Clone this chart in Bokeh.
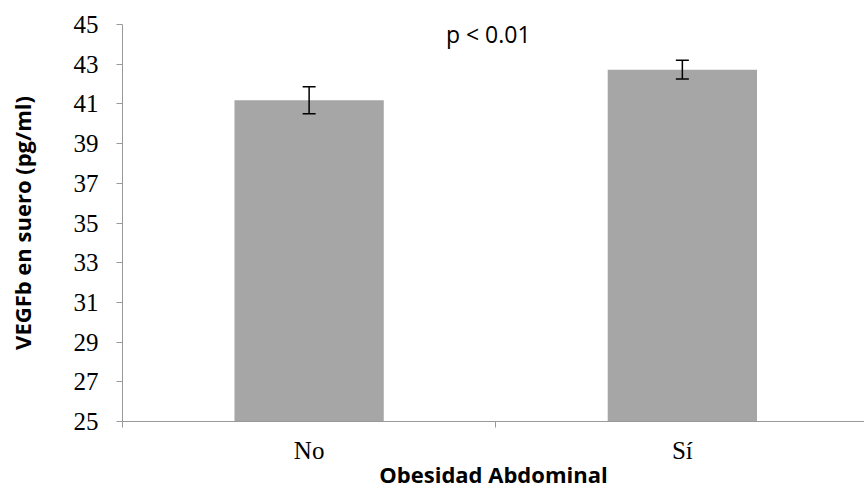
from bokeh.plotting import figure
from bokeh.models import ColumnDataSource, Whisker, TeeHead, FixedTicker, Label, Range1d
from bokeh.embed import file_html
from bokeh.resources import INLINE

categories = ["No", "Sí"]
means = [41.18, 42.72]
err_low = [40.51, 42.26]
err_high = [41.86, 43.20]
y_ticks = list(range(25, 46, 2))
annotation = "p < 0.01"

xpos = [i + 0.5 for i in range(len(categories))]

p = figure(width=864, height=491, output_backend="svg", toolbar_location=None,
           x_range=Range1d(0, 1.988), y_range=Range1d(25, 45),
           min_border_left=122, min_border_right=0, min_border_top=24, min_border_bottom=0)
p.outline_line_color = None
p.xgrid.visible = False
p.ygrid.visible = False
p.background_fill_color = "white"
p.border_fill_color = "white"

src = ColumnDataSource(dict(x=xpos, top=means, lo=err_low, hi=err_high))
p.vbar(x="x", top="top", bottom=25, width=0.4, source=src, fill_color="#A6A6A6", line_color=None)

w = Whisker(source=src, base="x", lower="lo", upper="hi", line_color="black", line_width=1.5,
            upper_head=TeeHead(size=13, line_color="black", line_width=1.5),
            lower_head=TeeHead(size=13, line_color="black", line_width=1.5),
            level="overlay")
p.add_layout(w)

# y axis
p.yaxis.ticker = FixedTicker(ticks=y_ticks)
p.yaxis.axis_line_color = "#999999"
p.yaxis.major_tick_line_color = "#999999"
p.yaxis.major_tick_out = 6
p.yaxis.major_tick_in = 0
p.yaxis.minor_tick_line_color = None
p.yaxis.major_label_text_font = "Liberation Serif"
p.yaxis.major_label_text_font_size = "25px"
p.yaxis.major_label_text_color = "black"
p.yaxis.major_label_standoff = 18
p.yaxis.axis_label = "VEGFb en suero (pg/ml)"
p.yaxis.axis_label_text_font = "Open Sans"
p.yaxis.axis_label_text_font_style = "bold"
p.yaxis.axis_label_text_font_size = "22px"
p.yaxis.axis_label_text_color = "black"
p.yaxis.axis_label_standoff = 34

# x axis
p.xaxis.ticker = FixedTicker(ticks=xpos, minor_ticks=[0, 1, 2])
p.xaxis.major_label_overrides = {x: c for x, c in zip(xpos, categories)}
p.xaxis.axis_line_color = "#999999"
p.xaxis.major_tick_line_color = None
p.xaxis.minor_tick_line_color = "#999999"
p.xaxis.minor_tick_out = 6
p.xaxis.minor_tick_in = 0
p.xaxis.major_label_text_font = "Liberation Serif"
p.xaxis.major_label_text_font_size = "25px"
p.xaxis.major_label_text_color = "black"
p.xaxis.major_label_standoff = 9
p.xaxis.axis_label = "Obesidad Abdominal"
p.xaxis.axis_label_text_font = "Open Sans"
p.xaxis.axis_label_text_font_style = "bold"
p.xaxis.axis_label_text_font_size = "22px"
p.xaxis.axis_label_text_color = "black"
p.xaxis.axis_label_standoff = -8

lab = Label(x=0.98, y=44.5, text=annotation, text_align="center", text_baseline="middle",
            text_font="Open Sans", text_font_size="23px", text_color="black")
p.add_layout(lab)

open("out.html", "w").write(file_html(p, INLINE))
